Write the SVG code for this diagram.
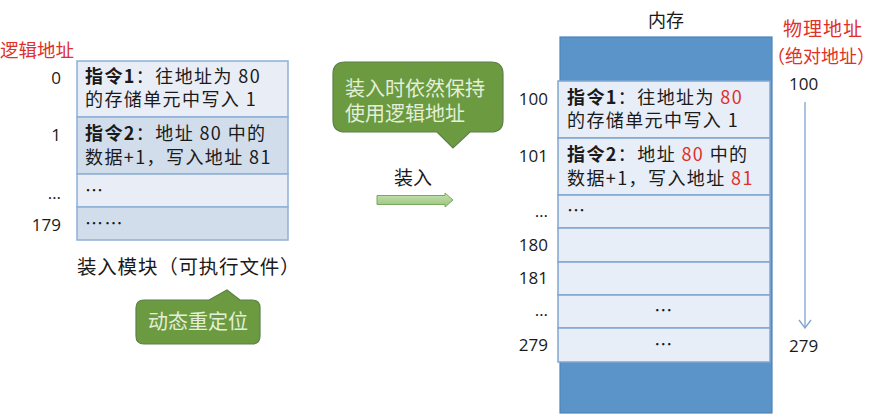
<svg xmlns="http://www.w3.org/2000/svg" width="879" height="417" viewBox="0 0 879 417">
<defs>
<style>
text{font-family:"Noto Sans CJK SC","Noto Sans",sans-serif;fill:#1a1a1a}
.num{font-family:"Open Sans","Noto Sans",sans-serif;font-size:17px}
.cell{font-size:18px;letter-spacing:1.4px}
.b{font-weight:bold}
.red{fill:#e0302a}
.lt{fill:#e9eef6;stroke:#8db0d6;stroke-width:1.5}
.dk{fill:#d2ddec;stroke:#8db0d6;stroke-width:1.5}
.mrow{fill:#e8eef7;stroke:#7fa6d0;stroke-width:1.5}
.call{fill:#6b9a40;stroke:#5d7f4a;stroke-width:1.2}
.ct{fill:#e4efd9;font-size:20px}
</style>
<marker id="vh" markerWidth="10" markerHeight="14" refX="9" refY="7" orient="auto" markerUnits="userSpaceOnUse" viewBox="0 0 10 14"><path d="M1 1 L9 7 L1 13" fill="none" stroke="#7ea3cf" stroke-width="1.3"/></marker>
<linearGradient id="ag" x1="0" y1="0" x2="0" y2="1"><stop offset="0" stop-color="#c7e2b3"/><stop offset="1" stop-color="#98c47a"/></linearGradient>
</defs>

<g id="logical-label"><text x="0" y="57" font-size="18.5" class="red">逻辑地址</text></g>

<g id="load-module">
<rect class="lt" x="77" y="61" width="211" height="56"/>
<rect class="dk" x="77" y="117" width="211" height="57"/>
<rect class="lt" x="77" y="174" width="211" height="33"/>
<rect class="dk" x="77" y="207" width="211" height="33"/>
<text class="cell" x="85" y="83"><tspan class="b">指令1</tspan>：往地址为 80</text>
<text class="cell" x="85" y="106">的存储单元中写入 1</text>
<text class="cell" x="85" y="140"><tspan class="b">指令2</tspan>：地址 80 中的</text>
<text class="cell" x="85" y="164">数据+1，写入地址 81</text>
<text class="cell" x="85" y="197">…</text>
<text class="cell" x="85" y="230">……</text>
<text class="num" x="61" y="84" text-anchor="end">0</text>
<text class="num" x="61" y="141" text-anchor="end">1</text>
<text class="num" x="61" y="199" text-anchor="end">…</text>
<text class="num" x="61" y="231" text-anchor="end">179</text>
<text x="77" y="274" font-size="19.5" letter-spacing="0.8">装入模块（可执行文件）</text>
</g>

<g id="callout-relocate">
<path class="call" d="M144 300 H209 L227 290 L240 300 H252 Q260 300 260 308 V336 Q260 344 252 344 H144 Q136 344 136 336 V308 Q136 300 144 300 Z"/>
<text class="ct" x="198" y="329" text-anchor="middle">动态重定位</text>
</g>

<g id="callout-load">
<path class="call" d="M345 62 H491 Q503 62 503 74 V120 Q503 132 491 132 H470 L453 148 L437 132 H345 Q333 132 333 120 V74 Q333 62 345 62 Z"/>
<text class="ct" x="345" y="96">装入时依然保持</text>
<text class="ct" x="345" y="121">使用逻辑地址</text>
</g>

<g id="connectors">
<text x="394" y="185" font-size="19">装入</text>
<path d="M377 195.5 H445 V193 L453 200 L445 207 V204.5 H377 Z" fill="url(#ag)" stroke="#7aa85c" stroke-width="1"/>
<line x1="805" y1="102" x2="805" y2="328" stroke="#7ea3cf" stroke-width="1.3" marker-end="url(#vh)"/>
</g>

<g id="memory">
<text x="666" y="27" font-size="18" text-anchor="middle">内存</text>
<rect x="560" y="37" width="212" height="376" fill="#5b94c9" stroke="#4d84bb" stroke-width="1.2"/>
<rect class="mrow" x="558" y="81" width="212" height="57"/>
<rect class="mrow" x="558" y="138" width="212" height="57"/>
<rect class="mrow" x="558" y="195" width="212" height="33"/>
<rect class="mrow" x="558" y="228" width="212" height="34"/>
<rect class="mrow" x="558" y="262" width="212" height="33"/>
<rect class="mrow" x="558" y="295" width="212" height="33"/>
<rect class="mrow" x="558" y="328" width="212" height="34"/>
<text class="cell" x="567" y="104"><tspan class="b">指令1</tspan>：往地址为 <tspan class="red">80</tspan></text>
<text class="cell" x="567" y="127">的存储单元中写入 1</text>
<text class="cell" x="567" y="161"><tspan class="b">指令2</tspan>：地址 <tspan class="red">80</tspan> 中的</text>
<text class="cell" x="567" y="185">数据+1，写入地址 <tspan class="red">81</tspan></text>
<text class="cell" x="567" y="217">…</text>
<text class="cell" x="664" y="317" text-anchor="middle">…</text>
<text class="cell" x="664" y="351" text-anchor="middle">…</text>
<text class="num" x="548" y="105" text-anchor="end">100</text>
<text class="num" x="548" y="162" text-anchor="end">101</text>
<text class="num" x="548" y="217" text-anchor="end">…</text>
<text class="num" x="548" y="251" text-anchor="end">180</text>
<text class="num" x="548" y="284" text-anchor="end">181</text>
<text class="num" x="548" y="316" text-anchor="end">…</text>
<text class="num" x="548" y="351" text-anchor="end">279</text>
</g>

<g id="physical-label">
<text x="783" y="36" font-size="19" letter-spacing="1" class="red">物理地址</text>
<text x="767" y="63" font-size="18" class="red">（绝对地址）</text>
<text class="num" x="789" y="90">100</text>
<text class="num" x="789" y="352">279</text>
</g>
</svg>
